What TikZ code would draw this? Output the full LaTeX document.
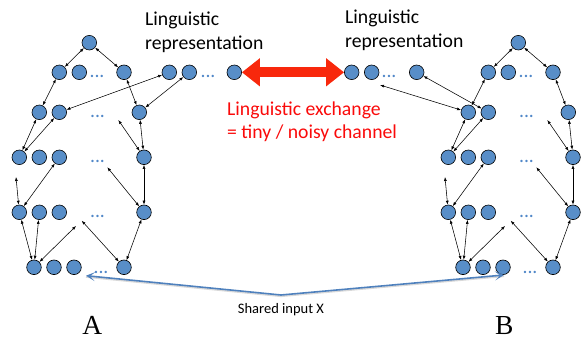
\documentclass[tikz,border=0pt]{standalone}
\usepackage{fontspec}
\setmainfont{Carlito}
\newfontfamily\timesfont{Liberation Serif}
\usetikzlibrary{arrows.meta}
\definecolor{nodeblue}{RGB}{88,142,200}
\definecolor{dotblue}{RGB}{80,135,200}
\definecolor{linkblue}{RGB}{79,129,189}
\definecolor{xred}{RGB}{248,40,12}
\definecolor{txtred}{RGB}{250,10,10}
\begin{document}
\begin{tikzpicture}[x=1pt,y=-1pt,
  nd/.style={circle, draw=black, line width=0.6pt, fill=nodeblue, minimum size=14.6pt, inner sep=0pt},
  dts/.style={text=dotblue, font=\fontsize{19.7}{20}\selectfont, inner sep=0pt, anchor=base},
  lnk/.style={{Latex[length=4pt,width=3pt]}-{Latex[length=4pt,width=3pt]}, line width=0.55pt, black},
  biglbl/.style={font=\fontsize{19.7}{23.3}\selectfont, inner sep=0pt, anchor=base west, align=left},
  letter/.style={font=\timesfont\fontsize{27.5}{30}\selectfont, inner sep=0pt, anchor=base}]
\useasboundingbox (0,0) rectangle (584,339);

\foreach \p/\s in {L/0,R/429}{
\begin{scope}[xshift=\s]
  \node[nd] (\p0) at (89.3,42.7) {};
  \node[nd] (\p21) at (59.3,72.3) {};
  \node[nd] (\p22) at (79.3,72.3) {};
  \node[dts] (\p2d) at (97,78) {...};
  \node[nd] (\p2e) at (124,72.3) {};
  \node[nd] (\p31) at (39.3,112.3) {};
  \node[nd] (\p32) at (59.3,112.3) {};
  \node[dts] (\p3d) at (97.5,118) {...};
  \node[nd] (\p3e) at (139.3,112.3) {};
  \node[nd] (\p41) at (19.3,157.3) {};
  \node[nd] (\p42) at (39.3,157.3) {};
  \node[nd] (\p43) at (59.3,157.3) {};
  \node[dts] (\p4d) at (97.5,163) {...};
  \node[nd] (\p4e) at (144,157.3) {};
  \node[nd] (\p51) at (19.3,212.3) {};
  \node[nd] (\p52) at (39.3,212.3) {};
  \node[nd] (\p53) at (59.3,212.3) {};
  \node[dts] (\p5d) at (97.5,218) {...};
  \node[nd] (\p5e) at (144,212.3) {};
  \node[nd] (\p61) at (34,267.3) {};
  \node[nd] (\p62) at (54,267.3) {};
  \node[nd] (\p63) at (74,267.3) {};
  \node[dts] (\p6d) at (101,273) {...};
  \node[nd] (\p6e) at (124,267.3) {};
  \coordinate (\p f1) at (118.3,120);
  \coordinate (\p f2) at (16,177);
  \coordinate (\p f3) at (107.3,167.3);
  \coordinate (\p f4) at (76,226);
  \coordinate (\p f5) at (81.7,220.7);
  \draw[lnk] (\p0) -- (\p21);
  \draw[lnk] (\p0) -- (\p2e);
  \draw[lnk] (\p21) -- (\p31);
  \draw[lnk] (\p2e) -- (\p3e);
  \draw[lnk] (\p31) -- (\p41);
  \draw[lnk] (\p32) -- (\p41);
  \draw[lnk] (\p3e) -- (\p4e);
  \draw[lnk] (\p f1) -- (\p4e);
  \draw[lnk] (\p f2) -- (\p51);
  \draw[lnk] (\p43) -- (\p51);
  \draw[lnk] (\p4e) -- (\p5e);
  \draw[lnk] (\p f3) -- (\p5e);
  \draw[lnk] (\p61) -- (\p51);
  \draw[lnk] (\p61) -- (\p52);
  \draw[lnk] (\p61) -- (\p f4);
  \draw[lnk] (\p6e) -- (\p5e);
  \draw[lnk] (\p6e) -- (\p f5);
\end{scope}
}

% linguistic representations
\node[nd] (Lr1) at (169.3,72.3) {};
\node[nd] (Lr2) at (189.3,72.3) {};
\node[dts] (Lrd) at (208,78) {...};
\node[nd] (Lre) at (234.3,72.3) {};
\node[nd] (Rr1) at (351.7,72.3) {};
\node[nd] (Rr2) at (371.7,72.3) {};
\node[dts] (Rrd) at (389,78) {...};
\node[nd] (Rre) at (416.7,72.3) {};
\coordinate (Rf) at (380,85);

\draw[lnk] (Lr1) -- (L32);
\draw[lnk] (Lr2) -- (L3e);
\draw[lnk] (Rf) -- (R31);
\draw[lnk] (Rre) -- (R32);

\node[biglbl] (lblA) at (145,49.3) {Linguistic\\representation};
\node[biglbl] (lblB) at (345,47.3) {Linguistic\\representation};

% red exchange arrow
\draw[xred, line width=10pt, {Triangle[length=18pt,width=27pt]}-{Triangle[length=18pt,width=27pt]}] (Lre) -- (Rr1);
\node[biglbl, text=txtred] (xch) at (227,139) {Linguistic exchange\\= tiny / noisy channel};

% shared input
\coordinate (sx) at (281,295);
\coordinate (ta) at (86,275.7);
\coordinate (tb) at (504,275);
\draw[gray!30, line width=1.6pt, transform canvas={yshift=-1.3pt}] (sx) -- (ta) (sx) -- (tb);
\draw[linkblue, line width=1.6pt, -{Stealth[length=9pt,width=9pt,inset=5pt]}] (sx) -- (ta);
\draw[linkblue, line width=1.6pt, -{Stealth[length=9pt,width=9pt,inset=5pt]}] (sx) -- (tb);
\node[font=\fontsize{14.5}{17}\selectfont, inner sep=0pt, anchor=base] (sxl) at (281,313.3) {Shared input X};

\node[letter] (A) at (92.3,334.5) {A};
\node[letter] (B) at (504.3,334.5) {B};
\end{tikzpicture}
\end{document}
